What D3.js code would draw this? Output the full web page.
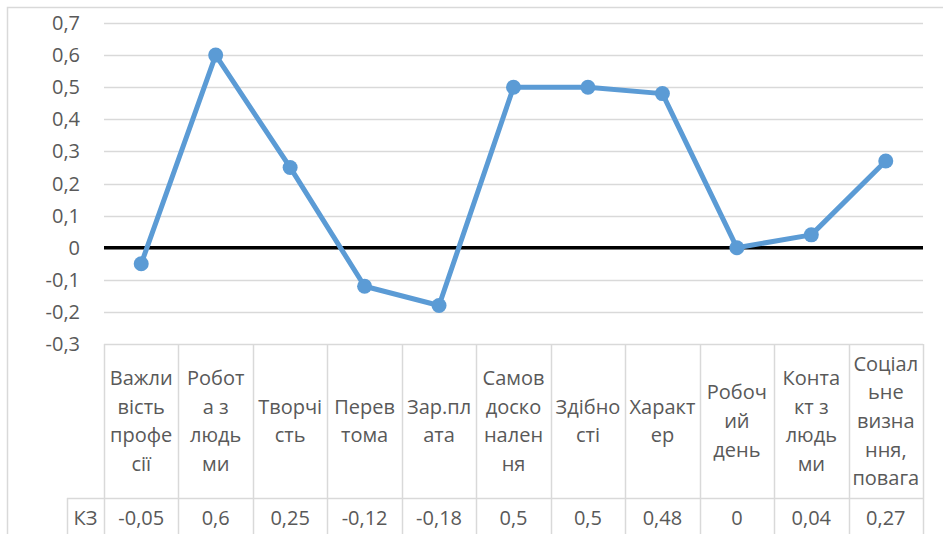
<!DOCTYPE html>
<meta charset="utf-8">
<title>КЗ</title>
<body>
<script src="https://cdn.jsdelivr.net/npm/d3@7"></script>
<style>
html, body {
    margin: 0;
    background: #fff;
}
svg text {
    font-family: "Open Sans", sans-serif;
    fill: #595959;
}
</style>
<script>
var categories = ["Важливість професії", "Робота з людьми", "Творчість", "Перевтома", "Зар.плата",
    "Самовдосконалення", "Здібності", "Характер", "Робочий день", "Контакт з людьми",
    "Соціальне визнання, повага"];
// how the category labels wrap in the table header
var categoryLines = [
    ["Важли", "вість", "профе", "сії"],
    ["Робот", "а з", "людь", "ми"],
    ["Творчі", "сть"],
    ["Перев", "тома"],
    ["Зар.пл", "ата"],
    ["Самов", "доско", "нален", "ня"],
    ["Здібно", "сті"],
    ["Характ", "ер"],
    ["Робоч", "ий", "день"],
    ["Конта", "кт з", "людь", "ми"],
    ["Соціал", "ьне", "визна", "ння,", "повага"]
];
var seriesName = "КЗ";
var values = [-0.05, 0.6, 0.25, -0.12, -0.18, 0.5, 0.5, 0.48, 0, 0.04, 0.27];
var valueLabels = ["-0,05", "0,6", "0,25", "-0,12", "-0,18", "0,5", "0,5", "0,48", "0", "0,04", "0,27"];
var yTicks = [-0.3, -0.2, -0.1, 0, 0.1, 0.2, 0.3, 0.4, 0.5, 0.6, 0.7];

var width = 943,
    height = 534,
    plotLeft = 104,
    plotRight = 923,
    plotTop = 23,
    plotBottom = 344,
    headerBottom = 498,
    keyLeft = 67,
    grid = "#d9d9d9",
    fontSize = 20,
    lineHeight = 28.7;

var svg = d3.select("body").append("svg")
    .attr("width", width)
    .attr("height", height);

var x = d3.scaleBand()
    .domain(d3.range(categories.length))
    .range([plotLeft, plotRight]);

var y = d3.scaleLinear()
    .domain([-0.3, 0.7])
    .range([plotBottom, plotTop]);

var fmt = function(d) { return String(Math.round(d * 10) / 10).replace(".", ","); };

// chart frame (cut at the right and bottom edges)
svg.append("path")
    .attr("d", "M7.5," + height + "V7.5H" + width)
    .attr("fill", "none")
    .attr("stroke", grid)
    .attr("stroke-width", 1.5);

// gridlines
svg.append("g").selectAll("line")
    .data(yTicks)
    .enter().append("line")
    .attr("x1", plotLeft)
    .attr("x2", plotRight)
    .attr("y1", function(d) { return Math.round(y(d)) + 0.5; })
    .attr("y2", function(d) { return Math.round(y(d)) + 0.5; })
    .attr("stroke", grid)
    .attr("stroke-width", 1.5);

// y tick labels
svg.append("g").selectAll("text")
    .data(yTicks)
    .enter().append("text")
    .attr("x", 80)
    .attr("y", function(d) { return y(d); })
    .attr("dy", "0.35em")
    .attr("text-anchor", "end")
    .attr("font-size", fontSize)
    .text(fmt);

// data table
var table = svg.append("g")
    .attr("stroke", grid)
    .attr("stroke-width", 1.5);

table.selectAll("line.col")
    .data(d3.range(categories.length + 1))
    .enter().append("line")
    .attr("class", "col")
    .attr("x1", function(i) { return Math.round(plotLeft + i * x.bandwidth()) + 0.5; })
    .attr("x2", function(i) { return Math.round(plotLeft + i * x.bandwidth()) + 0.5; })
    .attr("y1", plotBottom)
    .attr("y2", height);

table.append("line")
    .attr("x1", keyLeft).attr("x2", plotRight)
    .attr("y1", headerBottom + 0.5).attr("y2", headerBottom + 0.5);

table.append("line")
    .attr("x1", keyLeft + 0.5).attr("x2", keyLeft + 0.5)
    .attr("y1", headerBottom).attr("y2", height);

var headerMid = (plotBottom + headerBottom) / 2;

svg.append("g").selectAll("text")
    .data(categoryLines)
    .enter().append("text")
    .attr("text-anchor", "middle")
    .attr("font-size", fontSize)
    .attr("transform", function(d, i) {
        return "translate(" + (x(i) + x.bandwidth() / 2) + "," + headerMid + ")";
    })
    .selectAll("tspan")
    .data(function(d) {
        return d.map(function(s, j) { return { s: s, off: (j - (d.length - 1) / 2) * lineHeight }; });
    })
    .enter().append("tspan")
    .attr("x", 0)
    .attr("y", function(d) { return d.off; })
    .attr("dy", "0.35em")
    .text(function(d) { return d.s; });

var rowMid = 518;

svg.append("text")
    .attr("x", (keyLeft + plotLeft) / 2)
    .attr("y", rowMid)
    .attr("dy", "0.35em")
    .attr("text-anchor", "middle")
    .attr("font-size", fontSize)
    .text(seriesName);

svg.append("g").selectAll("text")
    .data(valueLabels)
    .enter().append("text")
    .attr("x", function(d, i) { return x(i) + x.bandwidth() / 2; })
    .attr("y", rowMid)
    .attr("dy", "0.35em")
    .attr("text-anchor", "middle")
    .attr("font-size", fontSize)
    .text(function(d) { return d; });

// zero line
svg.append("line")
    .attr("x1", plotLeft)
    .attr("x2", plotRight)
    .attr("y1", y(0))
    .attr("y2", y(0))
    .attr("stroke", "#000")
    .attr("stroke-width", 3.5);

// series
var line = d3.line()
    .x(function(d, i) { return x(i) + x.bandwidth() / 2; })
    .y(function(d) { return y(d); });

svg.append("path")
    .datum(values)
    .attr("d", line)
    .attr("fill", "none")
    .attr("stroke", "#5b9bd5")
    .attr("stroke-width", 5)
    .attr("stroke-linejoin", "round");

svg.append("g").selectAll("circle")
    .data(values)
    .enter().append("circle")
    .attr("cx", function(d, i) { return x(i) + x.bandwidth() / 2; })
    .attr("cy", function(d) { return y(d); })
    .attr("r", 7.5)
    .attr("fill", "#5b9bd5");
</script>
